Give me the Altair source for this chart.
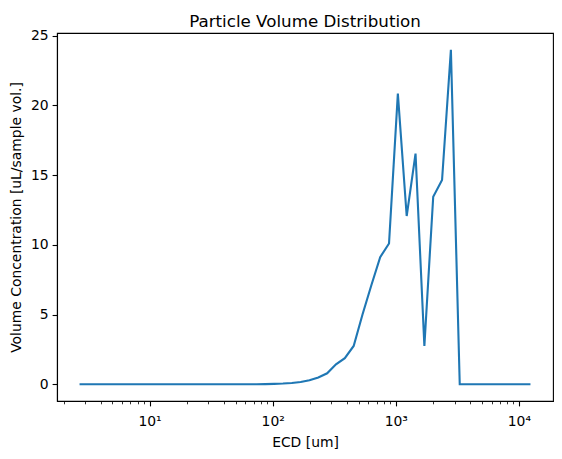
import altair as alt
import pandas as pd

# Equivalent circular diameter bin centres [um]
ecd = [2.70, 3.19, 3.76, 4.44, 5.24, 6.18, 7.29, 8.60, 10.15, 11.97,
       14.13, 16.67, 19.67, 23.20, 27.37, 32.28, 38.09, 44.94, 53.02, 62.55,
       73.79, 87.06, 102.7, 121.2, 143.0, 168.7, 199.0, 234.8, 277.0, 326.8,
       385.5, 454.9, 536.6, 633.1, 746.9, 881.0, 1039.4, 1226.3, 1446.7, 1706.8,
       2013.7, 2375.6, 2802.7, 3306.6, 3901.0, 4603.0, 5430.0, 6406.0, 7558.0, 8917.0,
       10520.0, 12412.0]

# Volume concentration per bin [uL/sample vol.]
volume = [0.0, 0.0, 0.0, 0.0, 0.0, 0.0, 0.0, 0.0, 0.0, 0.0,
          0.0, 0.0, 0.0, 0.0, 0.0, 0.0, 0.0, 0.0, 0.0, 0.002,
          0.005, 0.012, 0.025, 0.05, 0.09, 0.16, 0.29, 0.49, 0.79, 1.43,
          1.87, 2.75, 5.0, 7.1, 9.12, 10.1, 20.85, 12.07, 16.55, 2.75,
          13.45, 14.65, 24.0, 0.0, 0.0, 0.0, 0.0, 0.0, 0.0, 0.0,
          0.0, 0.0]

major_ticks = [10, 100, 1000, 10000]
minor_ticks = [2, 3, 4, 5, 6, 7, 8, 9,
               20, 30, 40, 50, 60, 70, 80, 90,
               200, 300, 400, 500, 600, 700, 800, 900,
               2000, 3000, 4000, 5000, 6000, 7000, 8000, 9000]
y_ticks = [0, 5, 10, 15, 20, 25]

df = pd.DataFrame({"ecd": ecd, "volume": volume})

FONT = "DejaVu Sans"
is_major = "datum.value == 10 || datum.value == 100 || datum.value == 1000 || datum.value == 10000"
label_expr = ("datum.value == 10 ? '10\u00b9' : datum.value == 100 ? '10\u00b2' : "
              "datum.value == 1000 ? '10\u00b3' : datum.value == 10000 ? '10\u2074' : ''")

chart = alt.Chart(df).mark_line(color="#1f77b4", strokeWidth=2.1).encode(
    x=alt.X(
        "ecd:Q",
        scale=alt.Scale(type="log", domain=[1.771, 18920], nice=False),
        axis=alt.Axis(
            title="ECD [um]",
            values=major_ticks + minor_ticks,
            labelExpr=label_expr,
            labelOverlap=False,
            labelFlush=False,
            grid=False,
            tickSize={"condition": {"test": is_major, "value": 4.9}, "value": 2.8},
            tickWidth={"condition": {"test": is_major, "value": 1.1}, "value": 0.8},
            tickColor="black",
            labelPadding=9,
            labelFontSize=13.9,
            labelFont=FONT,
            labelColor="black",
            titleFont=FONT,
            titleFontSize=13.9,
            titleFontWeight="normal",
            titleColor="black",
            titleX=248,
            titleY=41,
            titleBaseline="middle",
            titleAlign="center",
            domainColor="black",
            domainWidth=1.1,
        ),
    ),
    y=alt.Y(
        "volume:Q",
        scale=alt.Scale(domain=[-1.2, 25.2], nice=False, zero=False),
        axis=alt.Axis(
            title="Volume Concentration [uL/sample vol.]",
            values=y_ticks,
            grid=False,
            tickSize=4.9,
            tickWidth=1.1,
            tickColor="black",
            labelPadding=4,
            labelFontSize=13.9,
            labelFont=FONT,
            labelColor="black",
            titleFont=FONT,
            titleFontSize=13.9,
            titleFontWeight="normal",
            titleColor="black",
            titleX=-41,
            titleY=184,
            titleAngle=-90,
            titleBaseline="middle",
            titleAlign="center",
            domainColor="black",
            domainWidth=1.1,
        ),
    ),
).properties(
    width=496,
    height=368,
    title=alt.TitleParams(
        "Particle Volume Distribution",
        font=FONT,
        fontSize=16.7,
        fontWeight="normal",
        color="black",
        anchor="middle",
        frame="group",
        baseline="alphabetic",
        offset=8,
        dy=23,
    ),
    autosize=alt.AutoSizeParams(type="none"),
    padding={"left": 57, "top": 33, "right": 9, "bottom": 58},
).configure(
    background="white",
    view=alt.ViewConfig(stroke="black", strokeWidth=1.1),
)

chart.save("out.html", embed_options={"renderer": "svg", "actions": False})
